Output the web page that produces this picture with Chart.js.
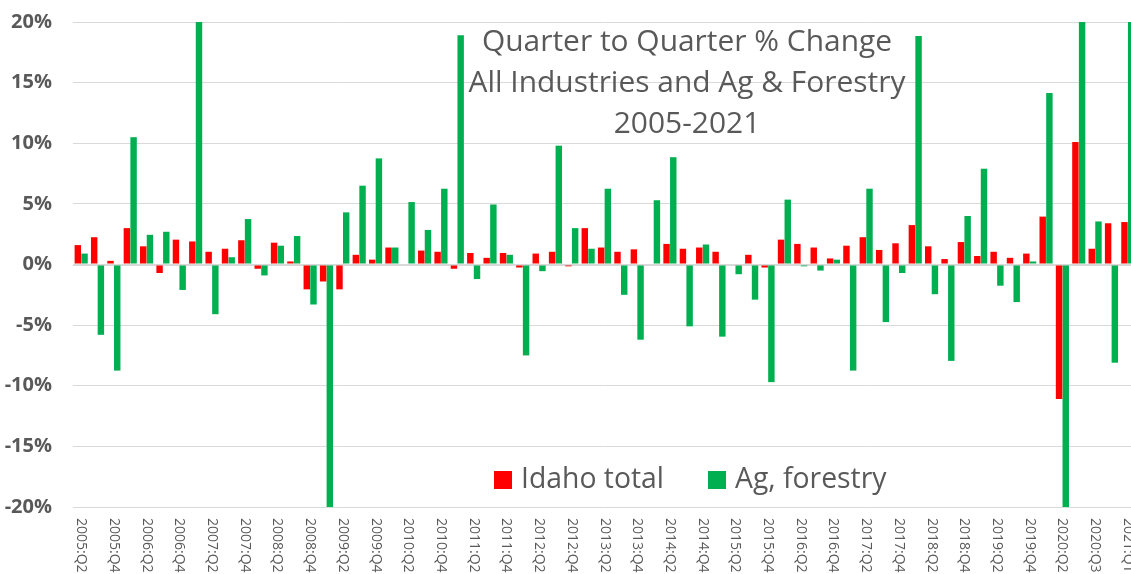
<!DOCTYPE html>
<html>
<head>
<meta charset="utf-8">
<title>Quarter to Quarter % Change</title>
<script src="https://cdn.jsdelivr.net/npm/chart.js@4.4.1/dist/chart.umd.min.js"></script>
<style>
    html, body { margin: 0; padding: 0; background: #fff; overflow: hidden; }
    canvas { display: block; }
</style>
</head>
<body>
<canvas id="qq-chart" width="1145" height="574"></canvas>
<script>
/* Quarter to Quarter % Change — Idaho total vs Ag, forestry */

// Categories (quarters) as they appear on the sheet
var quarters = [
    '2005:Q2', '2005:Q3', '2005:Q4',
    '2006:Q1', '2006:Q2', '2006:Q3', '2006:Q4',
    '2007:Q1', '2007:Q2', '2007:Q3', '2007:Q4',
    '2008:Q1', '2008:Q2', '2008:Q3', '2008:Q4',
    '2009:Q1', '2009:Q2', '2009:Q3', '2009:Q4',
    '2010:Q1', '2010:Q2', '2010:Q3', '2010:Q4',
    '2011:Q1', '2011:Q2', '2011:Q3', '2011:Q4',
    '2012:Q1', '2012:Q2', '2012:Q3', '2012:Q4',
    '2013:Q1', '2013:Q2', '2013:Q3', '2013:Q4',
    '2014:Q1', '2014:Q2', '2014:Q3', '2014:Q4',
    '2015:Q1', '2015:Q2', '2015:Q3', '2015:Q4',
    '2016:Q1', '2016:Q2', '2016:Q3', '2016:Q4',
    '2017:Q1', '2017:Q2', '2017:Q3', '2017:Q4',
    '2018:Q1', '2018:Q2', '2018:Q3', '2018:Q4',
    '2019:Q1', '2019:Q2', '2019:Q3', '2019:Q4',
    '2020:Q1', '2020:Q2', '2020:Q3', '2020:Q3', '2020:Q4',
    '2021:Q1'
];

// Idaho total, % change
var idahoTotal = [
    1.6, 2.25, 0.3,
    3.0, 1.5, -0.7, 2.05,
    1.9, 1.05, 1.3, 2.0,
    -0.35, 1.8, 0.25, -2.05,
    -1.4, -2.05, 0.8, 0.4,
    1.4, 0, 1.15, 1.05,
    -0.35, 0.95, 0.55, 0.95,
    -0.25, 0.9, 1.05, -0.15,
    3.0, 1.4, 1.05, 1.25,
    0, 1.7, 1.3, 1.4,
    1.05, 0, 0.8, -0.25,
    2.05, 1.7, 1.4, 0.5,
    1.55, 2.25, 1.2, 1.75,
    3.25, 1.5, 0.45, 1.85,
    0.7, 1.05, 0.55, 0.9,
    3.95, -11.1, 10.1, 1.3, 3.4,
    3.5
];

// Ag, forestry, % change (some run past the ±20% axis)
var agForestry = [
    0.9, -5.8, -8.75,
    10.5, 2.45, 2.7, -2.1,
    24, -4.1, 0.6, 3.75,
    -0.9, 1.55, 2.35, -3.3,
    -24, 4.3, 6.5, 8.75,
    1.4, 5.15, 2.85, 6.25,
    18.9, -1.2, 4.95, 0.8,
    -7.5, -0.55, 9.8, 3.0,
    1.3, 6.25, -2.5, -6.2,
    5.3, 8.85, -5.1, 1.65,
    -5.95, -0.8, -2.9, -9.7,
    5.35, -0.15, -0.5, 0.4,
    -8.75, 6.25, -4.75, -0.7,
    18.85, -2.45, -7.95, 4.0,
    7.9, -1.75, -3.1, 0.25,
    14.15, -26, 28, 3.55, -8.1,
    22
];

var yTicks = [-20, -15, -10, -5, 0, 5, 10, 15, 20];

var titleLines = [
    'Quarter to Quarter % Change',
    'All Industries and Ag & Forestry',
    '2005-2021'
];

var TEXT  = '#595959';
var GRID  = '#D9D9D9';
var RED   = '#FF0000';
var GREEN = '#00B050';
var FONT  = '"Open Sans", "Noto Sans", sans-serif';

// size a font so that a text gets a given width
function fitFont(ctx, text, width, weight) {
    ctx.font = (weight || '') + ' 100px ' + FONT;
    var w = ctx.measureText(text).width;
    return (weight || '') + ' ' + (100 * width / w).toFixed(2) + 'px ' + FONT;
}

// title, legend and the top-to-bottom quarter labels
var overlay = {
    id: 'overlay',
    afterDatasetsDraw: function (chart) {
        var ctx = chart.ctx;
        var xs  = chart.scales.x;
        var i;

        ctx.save();
        ctx.fillStyle = TEXT;

        // Quarter labels, every other category, reading downwards.
        ctx.font = '14px ' + FONT;
        ctx.textAlign = 'left';
        ctx.textBaseline = 'middle';
        for (i = 0; i < quarters.length; i += 2) {
            ctx.save();
            ctx.translate(xs.getPixelForValue(i), chart.chartArea.bottom + 11);
            ctx.rotate(Math.PI / 2);
            ctx.fillText(quarters[i], 0, 0);
            ctx.restore();
        }

        // Title inside the plot.
        ctx.font = fitFont(ctx, titleLines[1], 437);
        ctx.textAlign = 'center';
        ctx.textBaseline = 'middle';
        ctx.fillText(titleLines[0], 687, 42);
        ctx.fillText(titleLines[1], 687, 83);
        ctx.fillText(titleLines[2], 687, 124);

        // Legend.
        ctx.font = fitFont(ctx, 'Idaho total', 143);
        ctx.textAlign = 'left';
        ctx.fillStyle = RED;
        ctx.fillRect(494, 471, 18, 18);
        ctx.fillStyle = GREEN;
        ctx.fillRect(708, 471, 18, 18);
        ctx.fillStyle = TEXT;
        ctx.fillText('Idaho total', 521, 480);
        ctx.fillText('Ag, forestry', 735, 480);

        ctx.restore();
    }
};

new Chart(document.getElementById('qq-chart'), {
    type: 'bar',
    data: {
        labels: quarters,
        datasets: [
            {
                label:           'Idaho total',
                data:            idahoTotal,
                backgroundColor: RED,
            },
            {
                label:           'Ag, forestry',
                data:            agForestry,
                backgroundColor: GREEN,
            },
        ],
    },
    options: {
        responsive: false,
        animation: false,
        events: [],
        categoryPercentage: 0.82,
        barPercentage: 0.96,
        datasets: { bar: { clip: 0 } },
        layout: { padding: { top: 22, right: 9, left: 0, bottom: 0 } },
        plugins: {
            legend:  { display: false },
            title:   { display: false },
            tooltip: { enabled: false },
        },
        scales: {
            x: {
                grid:   { display: false },
                border: { display: false },
                ticks:  { display: false },
                afterFit: function (scale) { scale.height = 67; },
            },
            y: {
                min: yTicks[0],
                max: yTicks[yTicks.length - 1],
                afterBuildTicks: function (scale) {
                    scale.ticks = yTicks.map(function (v) { return { value: v }; });
                },
                grid: {
                    color: GRID,
                    drawTicks: false,
                    lineWidth: function (c) { return c.tick && c.tick.value === 0 ? 2 : 1; },
                },
                border: { display: false },
                ticks: {
                    padding: 21,
                    color: TEXT,
                    font: { family: FONT, size: 20, weight: 'bold' },
                    callback: function (v) { return v + '%'; },
                },
                afterFit: function (scale) {
                    scale.width = 73;
                    scale.paddingTop = 0;
                    scale.paddingBottom = 0;
                },
            },
        },
    },
    plugins: [overlay],
});
</script>
</body>
</html>
